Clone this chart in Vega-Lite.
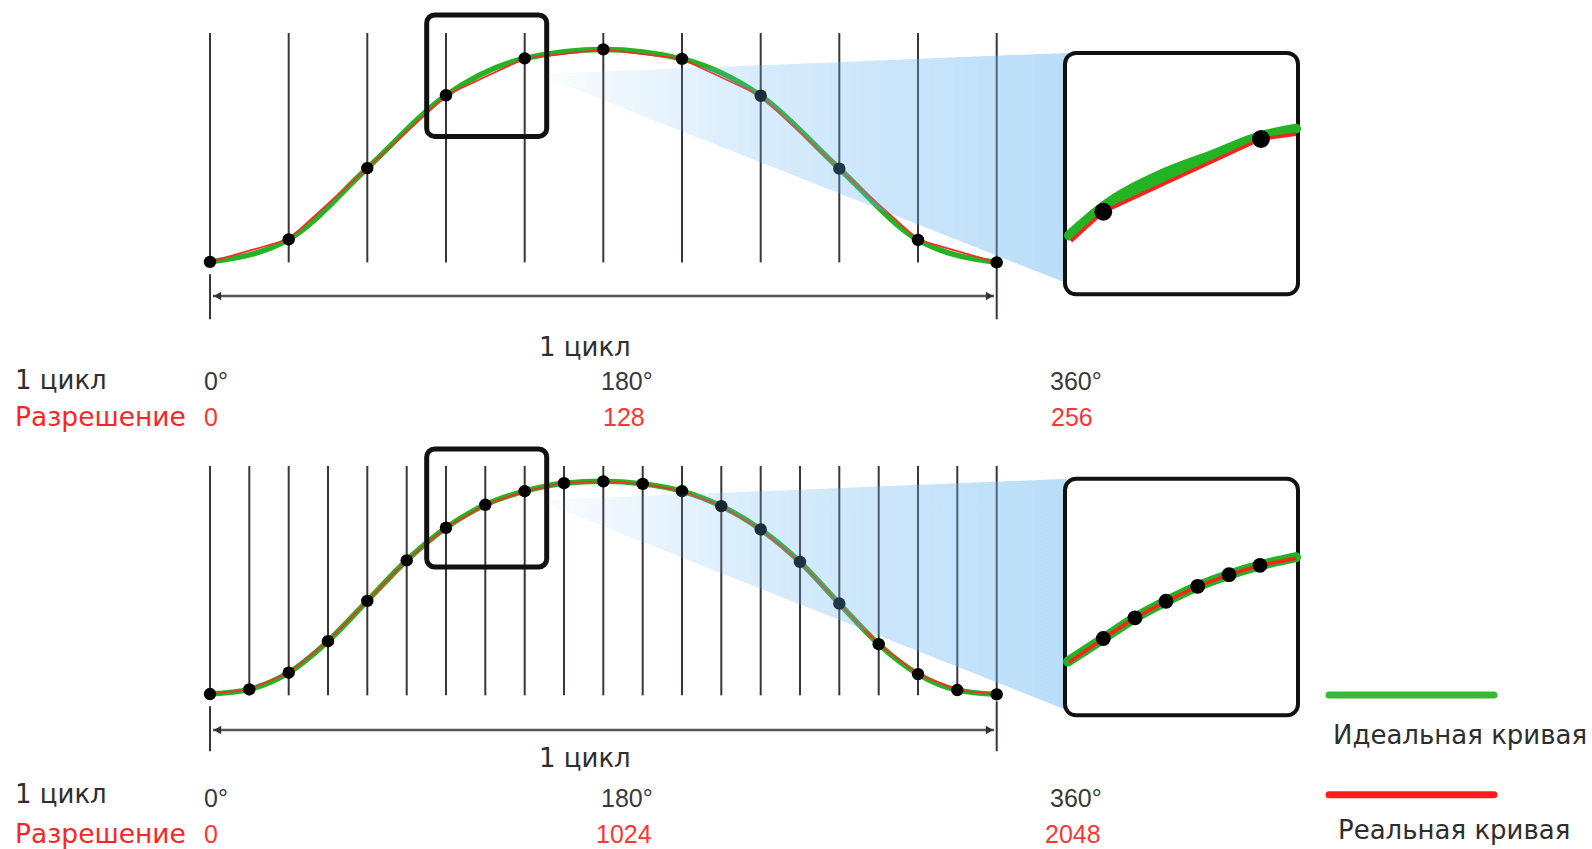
{
  "$schema": "https://vega.github.io/schema/vega-lite/v6.json",
  "width": 1592,
  "height": 849,
  "autosize": {"type": "fit", "contains": "padding"},
  "padding": 0,
  "background": "white",
  "config": {"view": {"stroke": null}},
  "encoding": {
    "x": {"field": "x", "type": "quantitative", "axis": null, "scale": {"domain": [0, 1592], "nice": false, "zero": false}},
    "y": {"field": "y", "type": "quantitative", "axis": null, "scale": {"domain": [0, 849], "reverse": true, "nice": false, "zero": false}}
  },
  "datasets": {
    "vlines": [
      {"x": 210, "y": 33, "y2": 263}, {"x": 288.7, "y": 33, "y2": 263}, {"x": 367.3, "y": 33, "y2": 263}, {"x": 446, "y": 33, "y2": 263},
      {"x": 524.7, "y": 33, "y2": 263}, {"x": 603.3, "y": 33, "y2": 263}, {"x": 682, "y": 33, "y2": 263}, {"x": 760.7, "y": 33, "y2": 263},
      {"x": 839.3, "y": 33, "y2": 263}, {"x": 918, "y": 33, "y2": 263}, {"x": 996.7, "y": 33, "y2": 263},
      {"x": 210, "y": 275, "y2": 320}, {"x": 996.7, "y": 268, "y2": 320},
      {"x": 210, "y": 467, "y2": 697}, {"x": 249.3, "y": 467, "y2": 697}, {"x": 288.7, "y": 467, "y2": 697}, {"x": 328, "y": 467, "y2": 697},
      {"x": 367.3, "y": 467, "y2": 697}, {"x": 406.7, "y": 467, "y2": 697}, {"x": 446, "y": 467, "y2": 697}, {"x": 485.3, "y": 467, "y2": 697},
      {"x": 524.7, "y": 467, "y2": 697}, {"x": 564, "y": 467, "y2": 697}, {"x": 603.3, "y": 467, "y2": 697}, {"x": 642.7, "y": 467, "y2": 697},
      {"x": 682, "y": 467, "y2": 697}, {"x": 721.3, "y": 467, "y2": 697}, {"x": 760.7, "y": 467, "y2": 697}, {"x": 800, "y": 467, "y2": 697},
      {"x": 839.3, "y": 467, "y2": 697}, {"x": 878.7, "y": 467, "y2": 697}, {"x": 918, "y": 467, "y2": 697}, {"x": 957.3, "y": 467, "y2": 697},
      {"x": 996.7, "y": 467, "y2": 697},
      {"x": 210, "y": 708, "y2": 753}, {"x": 996.7, "y": 703, "y2": 753}
    ],
    "arrows": [
      {"x": 213, "x2": 994, "y": 296.7},
      {"x": 213, "x2": 994, "y": 731.7}
    ],
    "arrow_left": [{"x": 217.5, "y": 296.7}, {"x": 217.5, "y": 731.7}],
    "arrow_right": [{"x": 989.5, "y": 296.7}, {"x": 989.5, "y": 731.7}],
    "curve": [
      {"panel": "top", "x": 210, "y": 262.5}, {"panel": "top", "x": 288.7, "y": 240}, {"panel": "top", "x": 367.3, "y": 168.5},
      {"panel": "top", "x": 446, "y": 95.5}, {"panel": "top", "x": 524.7, "y": 58.5}, {"panel": "top", "x": 603.3, "y": 49.5},
      {"panel": "top", "x": 682, "y": 59}, {"panel": "top", "x": 760.7, "y": 96}, {"panel": "top", "x": 839.3, "y": 169},
      {"panel": "top", "x": 918, "y": 240.5}, {"panel": "top", "x": 996.7, "y": 263},
      {"panel": "bottom", "x": 210, "y": 695.7}, {"panel": "bottom", "x": 249.3, "y": 691}, {"panel": "bottom", "x": 288.7, "y": 674.3},
      {"panel": "bottom", "x": 328, "y": 642.7}, {"panel": "bottom", "x": 367.3, "y": 602.3}, {"panel": "bottom", "x": 406.7, "y": 561.7},
      {"panel": "bottom", "x": 446, "y": 529}, {"panel": "bottom", "x": 485.3, "y": 506}, {"panel": "bottom", "x": 524.7, "y": 492.3},
      {"panel": "bottom", "x": 564, "y": 484.3}, {"panel": "bottom", "x": 603.3, "y": 482.5}, {"panel": "bottom", "x": 642.7, "y": 485},
      {"panel": "bottom", "x": 682, "y": 492.3}, {"panel": "bottom", "x": 721.3, "y": 507.3}, {"panel": "bottom", "x": 760.7, "y": 530.7},
      {"panel": "bottom", "x": 800, "y": 563.3}, {"panel": "bottom", "x": 839.3, "y": 605}, {"panel": "bottom", "x": 878.7, "y": 645.7},
      {"panel": "bottom", "x": 918, "y": 675.7}, {"panel": "bottom", "x": 957.3, "y": 691.7}, {"panel": "bottom", "x": 996.7, "y": 696}
    ],
    "zoomboxes": [
      {"x": 426.7, "x2": 546.7, "y": 15, "y2": 136.7},
      {"x": 426.7, "x2": 546.7, "y": 450, "y2": 568.3}
    ],
    "fan": [
      {"panel": "top", "x": 546.7, "y": 74, "y2": 78}, {"panel": "top", "x": 1067, "y": 53, "y2": 284},
      {"panel": "bottom", "x": 546.7, "y": 501, "y2": 505}, {"panel": "bottom", "x": 1067, "y": 480, "y2": 712}
    ],
    "insets": [
      {"x": 1065, "x2": 1298, "y": 53, "y2": 295},
      {"x": 1065, "x2": 1298, "y": 480, "y2": 717}
    ],
    "inset_green": [
      {"panel": "top", "x": 1069, "y": 236}, {"panel": "top", "x": 1103.3, "y": 207}, {"panel": "top", "x": 1163, "y": 174},
      {"panel": "top", "x": 1213, "y": 155}, {"panel": "top", "x": 1261, "y": 136.5}, {"panel": "top", "x": 1296, "y": 129},
      {"panel": "bottom", "x": 1068, "y": 663}, {"panel": "bottom", "x": 1103.3, "y": 640}, {"panel": "bottom", "x": 1135, "y": 619.3},
      {"panel": "bottom", "x": 1166, "y": 602.7}, {"panel": "bottom", "x": 1197.7, "y": 587.7}, {"panel": "bottom", "x": 1229, "y": 576},
      {"panel": "bottom", "x": 1260, "y": 566.7}, {"panel": "bottom", "x": 1296, "y": 558.5}
    ],
    "inset_green_wedge": [
      {"x": 1103.3, "y": 207, "y2": 212.3}, {"x": 1133, "y": 189.5, "y2": 198.4}, {"x": 1163, "y": 174, "y2": 184.5},
      {"x": 1188, "y": 164, "y2": 172.9}, {"x": 1213, "y": 155, "y2": 161.3}, {"x": 1237, "y": 145.5, "y2": 150.4},
      {"x": 1261, "y": 136.5, "y2": 139.3}
    ],
    "inset_red": [
      {"panel": "top", "x": 1071, "y": 241.7}, {"panel": "top", "x": 1103.3, "y": 212.3}, {"panel": "top", "x": 1261, "y": 139.3},
      {"panel": "top", "x": 1296, "y": 134.5},
      {"panel": "bottom", "x": 1069, "y": 664}, {"panel": "bottom", "x": 1103.3, "y": 640}, {"panel": "bottom", "x": 1135, "y": 619.3},
      {"panel": "bottom", "x": 1166, "y": 602.7}, {"panel": "bottom", "x": 1197.7, "y": 587.7}, {"panel": "bottom", "x": 1229, "y": 576},
      {"panel": "bottom", "x": 1260, "y": 566.7}, {"panel": "bottom", "x": 1296, "y": 559.5}
    ],
    "inset_dots_top": [{"x": 1103.3, "y": 212.3}, {"x": 1261, "y": 139.3}],
    "inset_dots_bottom": [
      {"x": 1103.3, "y": 640}, {"x": 1135, "y": 619.3}, {"x": 1166, "y": 602.7},
      {"x": 1197.7, "y": 587.7}, {"x": 1229, "y": 576}, {"x": 1260, "y": 566.7}
    ],
    "legend_lines": [
      {"series": "Идеальная кривая", "x": 1329, "x2": 1494, "y": 696.7},
      {"series": "Реальная кривая", "x": 1329, "x2": 1494, "y": 796.7}
    ],
    "labels_dark": [
      {"x": 539, "y": 357, "label": "1 цикл"},
      {"x": 15, "y": 390, "label": "1 цикл"},
      {"x": 539, "y": 769, "label": "1 цикл"},
      {"x": 15, "y": 805, "label": "1 цикл"},
      {"x": 1333, "y": 746, "label": "Идеальная кривая"},
      {"x": 1338, "y": 841, "label": "Реальная кривая"}
    ],
    "labels_red": [
      {"x": 15, "y": 427, "label": "Разрешение"},
      {"x": 15, "y": 845, "label": "Разрешение"}
    ],
    "numbers_dark": [
      {"x": 204, "y": 391, "label": "0°"}, {"x": 601, "y": 391, "label": "180°"}, {"x": 1050, "y": 391, "label": "360°"},
      {"x": 204, "y": 809, "label": "0°"}, {"x": 601, "y": 809, "label": "180°"}, {"x": 1050, "y": 809, "label": "360°"}
    ],
    "numbers_red": [
      {"x": 204, "y": 427, "label": "0"}, {"x": 603, "y": 427, "label": "128"}, {"x": 1051, "y": 427, "label": "256"},
      {"x": 204, "y": 845, "label": "0"}, {"x": 596, "y": 845, "label": "1024"}, {"x": 1045, "y": 845, "label": "2048"}
    ]
  },
  "layer": [
    {
      "data": {"name": "vlines"},
      "mark": {"type": "rule", "color": "#3b3535", "strokeWidth": 2},
      "encoding": {"y2": {"field": "y2"}}
    },
    {
      "data": {"name": "arrows"},
      "mark": {"type": "rule", "color": "#555555", "strokeWidth": 2.5},
      "encoding": {"x2": {"field": "x2"}}
    },
    {
      "data": {"name": "arrow_left"},
      "mark": {"type": "point", "shape": "triangle-left", "filled": true, "color": "#333333", "size": 70, "opacity": 1},
      "encoding": {}
    },
    {
      "data": {"name": "arrow_right"},
      "mark": {"type": "point", "shape": "triangle-right", "filled": true, "color": "#333333", "size": 70, "opacity": 1},
      "encoding": {}
    },
    {
      "data": {"name": "curve"},
      "mark": {"type": "line", "interpolate": "monotone", "color": "#22b422", "strokeWidth": 5.5},
      "encoding": {"detail": {"field": "panel"}}
    },
    {
      "data": {"name": "curve"},
      "mark": {"type": "line", "interpolate": "linear", "color": "#ff2a2a", "strokeWidth": 1.8},
      "encoding": {"detail": {"field": "panel"}}
    },
    {
      "data": {"name": "curve"},
      "mark": {"type": "circle", "color": "#000000", "size": 155, "opacity": 1},
      "encoding": {}
    },
    {
      "data": {"name": "zoomboxes"},
      "mark": {"type": "rect", "filled": false, "stroke": "#111111", "strokeWidth": 5, "cornerRadius": 8},
      "encoding": {"x2": {"field": "x2"}, "y2": {"field": "y2"}}
    },
    {
      "data": {"name": "fan"},
      "mark": {
        "type": "area",
        "interpolate": "linear",
        "color": {
          "gradient": "linear", "x1": 0, "y1": 0, "x2": 1, "y2": 0,
          "stops": [
            {"offset": 0, "color": "rgba(100,180,240,0.03)"},
            {"offset": 0.4, "color": "rgba(100,180,240,0.25)"},
            {"offset": 1, "color": "rgba(100,180,240,0.45)"}
          ]
        }
      },
      "encoding": {"y2": {"field": "y2"}, "detail": {"field": "panel"}}
    },
    {
      "data": {"name": "insets"},
      "mark": {"type": "rect", "fill": "white", "stroke": "#111111", "strokeWidth": 4, "cornerRadius": 11},
      "encoding": {"x2": {"field": "x2"}, "y2": {"field": "y2"}}
    },
    {
      "data": {"name": "inset_green_wedge"},
      "mark": {"type": "area", "interpolate": "monotone", "color": "#22b422", "opacity": 1},
      "encoding": {"y2": {"field": "y2"}}
    },
    {
      "data": {"name": "inset_green"},
      "mark": {"type": "line", "interpolate": "monotone", "color": "#22b422", "strokeWidth": 10, "strokeCap": "round"},
      "encoding": {"detail": {"field": "panel"}}
    },
    {
      "data": {"name": "inset_red"},
      "mark": {"type": "line", "interpolate": "linear", "color": "#ff2020", "strokeWidth": 3.5},
      "encoding": {"detail": {"field": "panel"}}
    },
    {
      "data": {"name": "inset_dots_top"},
      "mark": {"type": "circle", "color": "#000000", "size": 320, "opacity": 1},
      "encoding": {}
    },
    {
      "data": {"name": "inset_dots_bottom"},
      "mark": {"type": "circle", "color": "#000000", "size": 220, "opacity": 1},
      "encoding": {}
    },
    {
      "data": {"name": "legend_lines"},
      "mark": {"type": "rule", "strokeWidth": 7, "strokeCap": "round"},
      "encoding": {
        "x2": {"field": "x2"},
        "color": {"field": "series", "type": "nominal", "legend": null, "scale": {"domain": ["Идеальная кривая", "Реальная кривая"], "range": ["#36b936", "#ff1c1c"]}}
      }
    },
    {
      "data": {"name": "labels_dark"},
      "mark": {"type": "text", "align": "left", "baseline": "alphabetic", "font": "DejaVu Sans", "fontSize": 26, "color": "#2e2e2e"},
      "encoding": {"text": {"field": "label"}}
    },
    {
      "data": {"name": "labels_red"},
      "mark": {"type": "text", "align": "left", "baseline": "alphabetic", "font": "DejaVu Sans", "fontSize": 26.5, "color": "#ff2424"},
      "encoding": {"text": {"field": "label"}}
    },
    {
      "data": {"name": "numbers_dark"},
      "mark": {"type": "text", "align": "left", "baseline": "alphabetic", "font": "Liberation Sans", "fontSize": 25, "color": "#3a3a3a"},
      "encoding": {"text": {"field": "label"}}
    },
    {
      "data": {"name": "numbers_red"},
      "mark": {"type": "text", "align": "left", "baseline": "alphabetic", "font": "Liberation Sans", "fontSize": 25, "color": "#ff3535"},
      "encoding": {"text": {"field": "label"}}
    }
  ]
}
